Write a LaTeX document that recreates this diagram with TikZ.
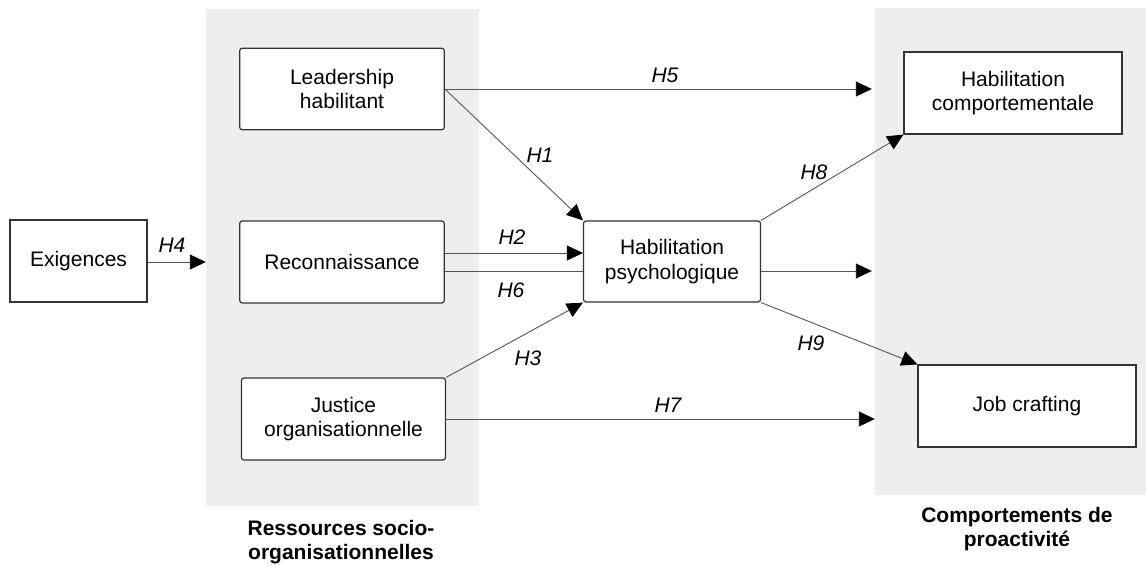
\documentclass[tikz,border=0pt]{standalone}
\usepackage{fontspec}
\setmainfont{Liberation Sans}
\usetikzlibrary{arrows.meta}
\definecolor{panelc}{HTML}{EEEEEE}
\definecolor{boxc}{HTML}{333333}
\definecolor{linec}{HTML}{555555}
\begin{document}
\begin{tikzpicture}[x=1pt,y=-1pt,
 box/.style={draw=boxc, line width=1.2pt, fill=white, inner sep=0pt, font=\fontsize{21}{24.5}\selectfont, align=center},
 rbox/.style={box, rounded corners=2.5pt},
 conn/.style={draw=linec, line width=0.9pt},
 arr/.style={conn, -{Triangle[length=16pt,width=15pt,fill=black,color=black]}},
 hlab/.style={font=\fontsize{21}{24}\selectfont\itshape, inner sep=0pt},
 panel/.style={fill=panelc, draw=none, inner sep=0pt},
 plab/.style={font=\fontsize{21}{24}\selectfont\bfseries, align=center, inner sep=0pt}]
\useasboundingbox (0,0) rectangle (1146,565);
% panels
\node[panel, minimum width=273pt, minimum height=497pt] (rp) at (342.5,257.5) {};
\node[panel, minimum width=271pt, minimum height=487pt] (cp) at (1010.5,251.5) {};
% boxes
\node[box, minimum width=137pt, minimum height=82pt] (exi) at (78.5,261) {Exigences};
\node[rbox, minimum width=204.5pt, minimum height=81.5pt] (lead) at (342,89) {Leadership\\habilitant};
\node[rbox, minimum width=204.5pt, minimum height=82pt] (rec) at (342,262) {Reconnaissance};
\node[rbox, minimum width=204pt, minimum height=82pt] (jus) at (343.5,419) {Justice\\organisationnelle};
\node[rbox, minimum width=177pt, minimum height=81pt] (hp) at (672,261.5) {Habilitation\\psychologique};
\node[box, minimum width=218pt, minimum height=82pt] (hc) at (1013,93) {Habilitation\\comportementale};
\node[box, minimum width=218pt, minimum height=82pt] (jc) at (1027,406) {Job crafting};
% connectors
\draw[arr] (exi.east |- 0,262) -- (rp.west |- 0,262);
\draw[arr] (lead.east) -- ([xshift=-3pt]cp.west |- lead.east);
\draw[arr] (lead.east) -- (hp.north west);
\draw[arr] (rec.east |- 0,253) -- (hp.west |- 0,253);
\draw[conn] (rec.east |- 0,271) -- (hp.west |- 0,271);
\draw[arr] (hp.east |- 0,271) -- ([xshift=-3pt]cp.west |- 0,271);
\draw[arr] (jus.north east) -- (hp.south west);
\draw[arr] (jus.east) -- (cp.west |- jus.east);
\draw[arr] (hp.north east) -- (hc.south west);
\draw[arr] (hp.south east) -- (jc.north west);
% hypothesis labels
\node[hlab] (h1) at (540,155) {H1};
\node[hlab] (h2) at (512,237) {H2};
\node[hlab] (h3) at (528,358) {H3};
\node[hlab] (h4) at (172,245) {H4};
\node[hlab] (h5) at (665,75) {H5};
\node[hlab] (h6) at (511,290) {H6};
\node[hlab] (h7) at (668,405) {H7};
\node[hlab] (h8) at (814,172) {H8};
\node[hlab] (h9) at (811,343) {H9};
% panel labels
\node[plab] (rl) at (341,542) {Ressources socio-\\organisationnelles};
\node[plab] (cl) at (1017,529) {Comportements de\\proactivité};
\end{tikzpicture}
\end{document}
